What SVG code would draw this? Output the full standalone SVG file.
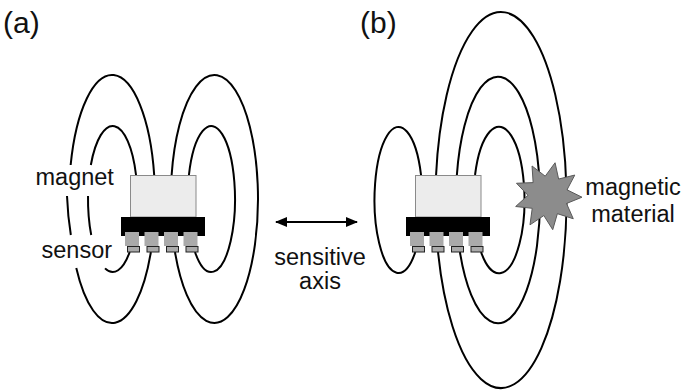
<svg xmlns="http://www.w3.org/2000/svg" width="688" height="391" viewBox="0 0 688 391">
  <style>
    .lbl { font-family: "Liberation Sans", Arial, sans-serif; fill: #111; }
    .panel { font-size: 30px; }
    .txt { font-size: 23.5px; }
    .field { fill: none; stroke: #000; stroke-width: 2; }
    .magnet { fill: #ececec; stroke: #8a8a8a; stroke-width: 1; }
    .leg { fill: #aaaaaa; }
    .pad { fill: #aaaaaa; stroke: #222; stroke-width: 1; }
    .axis { stroke: #000; stroke-width: 2; fill: none; }
  </style>
  <defs>
    <marker id="head" viewBox="0 0 12 10" refX="11" refY="5" markerWidth="12" markerHeight="10" markerUnits="userSpaceOnUse" orient="auto-start-reverse">
      <path d="M0 0 L12 5 L0 10 Z" fill="#000"/>
    </marker>
    <!-- magnet on top of the sensor package with four legs and pads -->
    <g id="chip">
      <rect class="magnet" x="130.5" y="175.5" width="65.5" height="41.5"/>
      <rect x="121" y="217" width="84" height="19" fill="#000"/>
      <rect class="leg" x="125" y="232" width="14" height="14"/>
      <rect class="leg" x="144.5" y="232" width="14" height="14"/>
      <rect class="leg" x="164" y="232" width="14" height="14"/>
      <rect class="leg" x="183.5" y="232" width="14" height="14"/>
      <rect class="pad" x="127.5" y="246.5" width="12" height="5.5"/>
      <rect class="pad" x="147" y="246.5" width="12" height="5.5"/>
      <rect class="pad" x="166.5" y="246.5" width="12" height="5.5"/>
      <rect class="pad" x="186" y="246.5" width="12" height="5.5"/>
    </g>
  </defs>

  <!-- panel labels -->
  <text class="lbl panel" x="3" y="33">(a)</text>
  <text class="lbl panel" x="360" y="33">(b)</text>

  <!-- field lines -->
  <g id="field-lines">
    <!-- (a) left outer loop, broken by the labels -->
    <path class="field" d="M154.19 175 A43 124 0 0 0 70.65 165"/>
    <path class="field" d="M67.01 196 A43 124 0 0 0 70.85 235"/>
    <path class="field" d="M76.27 268 A43 124 0 0 0 150.88 252"/>
    <!-- (a) left inner loop -->
    <path class="field" d="M136.03 175 A24.7 73 0 0 0 90.84 165"/>
    <path class="field" d="M88.02 196 A24.7 73 0 0 0 91.21 235"/>
    <path class="field" d="M105 268.37 A24.7 73 0 0 0 129.69 252"/>
    <!-- (a) right loops -->
    <path class="field" d="M171.62 175 A43.6 124 0 1 1 174.98 252"/>
    <path class="field" d="M188.92 175 A23.7 73 0 1 1 195 252"/>

    <!-- (b) left loop -->
    <path class="field" d="M421.05 175 A24 73 0 1 0 415.3 252"/>
    <!-- (b) right loops, stretched toward the magnetic material -->
    <path class="field" d="M436.08 175 A65.5 188 0 1 1 438.05 252"/>
    <path class="field" d="M456.87 175 A42 123.3 0 1 1 459.92 252"/>
    <path class="field" d="M475.03 175 A25.5 73.3 0 1 1 481.03 252"/>
  </g>

  <g id="sensor-a">
    <use href="#chip"/>
  </g>
  <g id="sensor-b">
    <use href="#chip" transform="translate(285 0)"/>
  </g>

  <g id="magnetic-material">
    <polygon points="555.07,162.74 558.60,179.04 574.79,175.07 567.02,189.82 581.98,197.19 566.54,203.49 573.27,218.75 557.39,213.66 552.73,229.67 543.84,215.56 529.98,224.83 532.24,208.31 515.66,206.51 528.01,195.30 516.48,183.26 533.14,182.62 532.04,165.98 545.22,176.19" fill="#8c8c8c" stroke="#5a5a5a" stroke-width="1" stroke-linejoin="miter"/>
  </g>

  <!-- labels -->
  <g id="labels">
    <text class="lbl txt" x="35.5" y="185">magnet</text>
    <text class="lbl txt" x="41.5" y="258">sensor</text>
    <text class="lbl txt" x="633" y="195" text-anchor="middle">magnetic</text>
    <text class="lbl txt" x="633" y="222" text-anchor="middle">material</text>
    <text class="lbl txt" x="320" y="265" text-anchor="middle">sensitive</text>
    <text class="lbl txt" x="320" y="289" text-anchor="middle">axis</text>
  </g>

  <!-- sensitive axis arrow -->
  <g id="axis-arrow">
    <line class="axis" x1="276" y1="222" x2="357" y2="222" marker-start="url(#head)" marker-end="url(#head)"/>
  </g>
</svg>
